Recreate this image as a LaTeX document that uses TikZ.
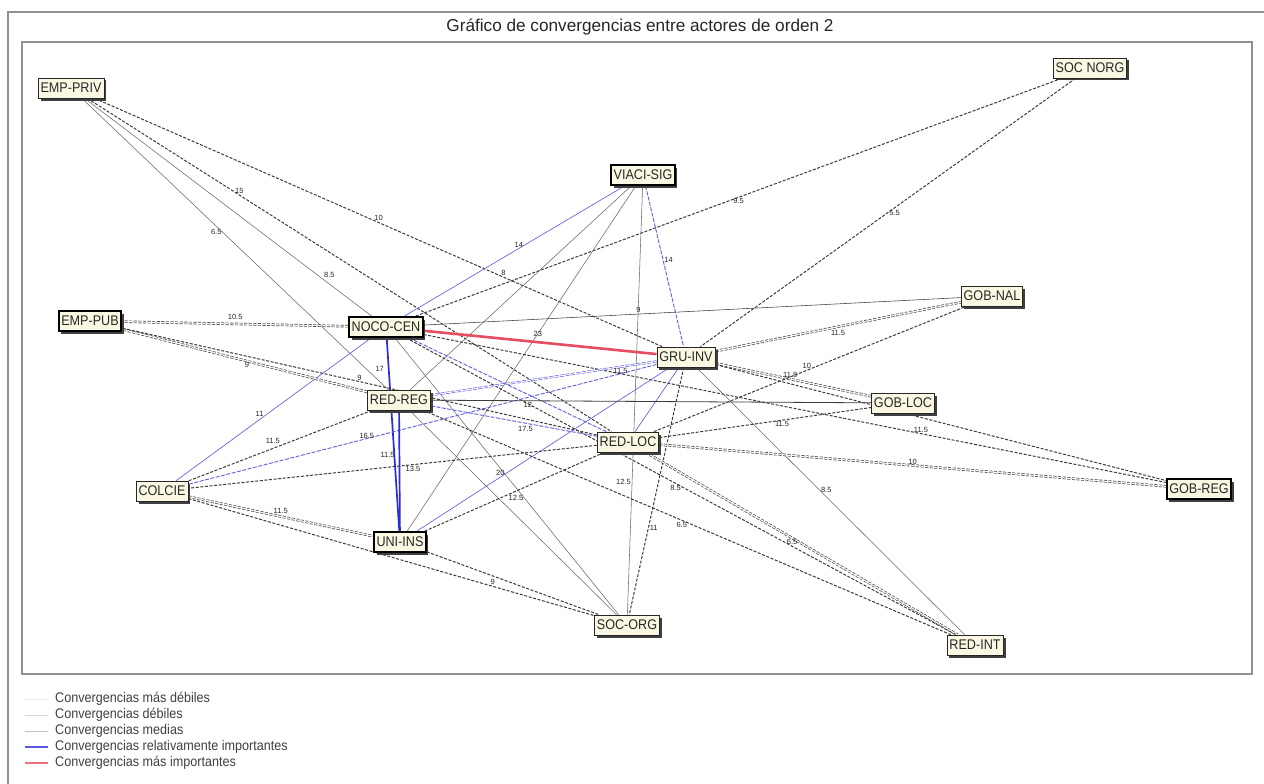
\documentclass[tikz,border=0pt]{standalone}
\usepackage{fontspec}
\setmainfont{Liberation Sans}
\newfontfamily\boxfont{Liberation Sans}[FakeStretch=0.9]
\usetikzlibrary{shadows,backgrounds}

\definecolor{edgegray}{RGB}{60,60,60}
\definecolor{softgray}{RGB}{105,105,105}
\definecolor{blueedge}{RGB}{95,95,225}
\definecolor{bluestrong}{RGB}{45,45,215}
\definecolor{rededge}{RGB}{228,78,96}
\definecolor{boxfill}{RGB}{250,248,226}
\definecolor{framegray}{RGB}{145,145,145}

\tikzset{
  actor/.style={draw=black!85, line width=0.8pt, fill=boxfill,
    font=\boxfont\fontsize{14}{14}\selectfont, text=black!85,
    inner xsep=2.5pt, inner ysep=0pt, minimum height=20pt,
    drop shadow={shadow xshift=2.5pt, shadow yshift=-2.5pt, fill=black!75, opacity=1}},
  actorbold/.style={actor, draw=black, line width=1.8pt},
  dline/.style={draw=edgegray, dash pattern=on 3pt off 1.6pt, line width=1pt},
  ddline/.style={dline, double=white, double distance=1.2pt, line width=0.65pt},
  sline/.style={draw=softgray, line width=0.55pt},
  bline/.style={draw=blueedge, line width=0.65pt},
  bdline/.style={draw=blueedge, dash pattern=on 4pt off 1.5pt, line width=0.9pt},
  bthick/.style={draw=bluestrong, line width=1.7pt},
  rthick/.style={draw=rededge, line width=2.6pt},
  lbl/.style={font=\fontsize{7.5}{7.5}\selectfont, inner sep=1pt, text=black!85},
  legtext/.style={font=\boxfont\fontsize{14}{14}\selectfont, text=black!75, anchor=west, inner sep=0pt}
}

\begin{document}
\begin{tikzpicture}[x=1pt,y=-1pt]
\useasboundingbox (0,0) rectangle (1264,784);

\begin{pgfonlayer}{background}
  \fill[white] (0,0) rectangle (1264,784);
  % window frame and plot frame
  \draw[framegray, line width=1.4pt] (8,784) -- (8,12) -- (1264,12);
  \draw[framegray, line width=1.4pt] (22,42) rectangle (1252,674);
\end{pgfonlayer}

% title
\node[font=\fontsize{17.2}{19}\selectfont, text=black!85] (title) at (640,27)
  {Gráfico de convergencias entre actores de orden 2};

% actors
\node[actor]     (EP) at (71,88)   {EMP-PRIV};
\node[actor]     (SN) at (1090,68) {SOC NORG};
\node[actorbold] (VS) at (643,175) {VIACI-SIG};
\node[actor]     (GN) at (992,296) {GOB-NAL};
\node[actorbold] (EU) at (90,321)  {EMP-PUB};
\node[actorbold] (NC) at (386,327) {NOCO-CEN};
\node[actor]     (GI) at (686,357) {GRU-INV};
\node[actor]     (RR) at (399,400) {RED-REG};
\node[actor]     (GL) at (903,403) {GOB-LOC};
\node[actor]     (RL) at (628,442) {RED-LOC};
\node[actorbold] (GR) at (1199,489) {GOB-REG};
\node[actor]     (CO) at (162,491) {COLCIE};
\node[actorbold] (UI) at (400,542) {UNI-INS};
\node[actor]     (SO) at (627,625) {SOC-ORG};
\node[actor]     (RI) at (975,645) {RED-INT};

% legend
\node[legtext] (lg1) at (55,699) {Convergencias más débiles};
\node[legtext] (lg2) at (55,715) {Convergencias débiles};
\node[legtext] (lg3) at (55,731) {Convergencias medias};
\node[legtext] (lg4) at (55,747) {Convergencias relativamente importantes};
\node[legtext] (lg5) at (55,763) {Convergencias más importantes};
\draw[black!8, line width=1pt]   ([xshift=-30pt]lg1.west) -- ([xshift=-7pt]lg1.west);
\draw[black!15, line width=1pt]  ([xshift=-30pt]lg2.west) -- ([xshift=-7pt]lg2.west);
\draw[blue!20!black!25, line width=1pt] ([xshift=-30pt]lg3.west) -- ([xshift=-7pt]lg3.west);
\draw[bluestrong!80, line width=2.4pt] ([xshift=-30pt]lg4.west) -- ([xshift=-7pt]lg4.west);
\draw[rededge!80, line width=2.4pt]    ([xshift=-30pt]lg5.west) -- ([xshift=-7pt]lg5.west);

% convergence links
\begin{pgfonlayer}{background}
  \draw[sline] (EP) -- node[lbl, pos=0.46, left] {6.5} (RR);
  \draw[sline] (EP) -- node[lbl, pos=0.83, above right] {8.5} (NC);
  \draw[dline] (EP) -- node[lbl, pos=0.29, above] {15} (RL);
  \draw[dline] (EP) -- node[lbl, pos=0.5, above] {10} node[lbl, pos=0.72, above] {8} (GI);
  \draw[dline] (SN) -- node[lbl, pos=0.5, below] {9.5} (NC);
  \draw[dline] (SN) -- node[lbl, pos=0.5, right] {5.5} (GI);
  \draw[bline] (VS) -- node[lbl, pos=0.48, above] {14} (NC);
  \draw[bdline] (VS) -- node[lbl, pos=0.46, right] {14} (GI);
  \draw[sline] (VS) -- (RR);
  \draw[sline] (VS) -- (UI);
  \draw[sline] (VS) -- node[lbl, pos=0.69, left] {12.5} (SO);
  \draw[ddline] (NC) -- node[lbl, pos=0.5, above=3pt] {10.5} (EU);
  \draw[rthick] (NC) -- node[lbl, pos=0.49, above=3pt] {23} (GI);
  \draw[sline, draw=edgegray] (NC) -- node[lbl, pos=0.40, above] {9} (GN);
  \draw[bline] (NC) -- node[lbl, pos=0.53, left=3pt] {11} (CO);
  \draw[bthick] (NC) -- node[lbl, pos=0.16, left=3pt] {17} (UI);
  \draw[bdline] (NC) -- (RL);
  \draw[sline] (NC) -- node[lbl, pos=0.58, left] {12.5} (SO);
  \draw[dline] (NC) -- node[lbl, pos=0.67, above] {11.5} (GR);
  \draw[dline] (NC) -- node[lbl, pos=0.49, below] {8.5} (RI);
  \draw[ddline] (GI) -- node[lbl, pos=0.5, below=2pt] {11.5} (GN);
  \draw[ddline] (GI) -- node[lbl, pos=0.48, above] {11.8} (GL);
  \draw[dline] (GI) -- (GR);
  \draw[sline] (GI) -- node[lbl, pos=0.46, right] {8.5} (RI);
  \draw[bdline] (GI) -- node[lbl, pos=0.6, left] {16.5} (CO);
  \draw[bline] (GI) -- node[lbl, pos=0.67, above] {20} (UI);
  \draw[bdline, double=white, double distance=1pt, line width=0.6pt] (GI) -- node[lbl, pos=0.16, below] {11.5} (RR);
  \draw[dline] (GI) -- node[lbl, pos=0.65, right] {11} (SO);
  \draw[bline] (GI) -- (RL);
  \draw[sline, draw=edgegray, line width=0.8pt] (RR) -- node[lbl, pos=0.22, below] {12} (GL);
  \draw[bdline] (RR) -- node[lbl, pos=0.57, below=2pt] {17.5} (RL);
  \draw[bthick] (RR) -- node[lbl, pos=0.37, left=3pt] {11.5} (UI);
  \draw[dline] (RR) -- node[lbl, pos=0.49, below] {6.5} (RI);
  \draw[dline] (RR) -- node[lbl, pos=0.54, above=3pt] {11.5} (CO);
  \draw[ddline] (RR) -- node[lbl, pos=0.49, below] {9} (EU);
  \draw[sline] (RR) -- (SO);
  \draw[dline] (RL) -- node[lbl, pos=0.49, above] {10} (GN);
  \draw[dline] (RL) -- node[lbl, pos=0.58, below] {11.5} (GL);
  \draw[ddline] (RL) -- node[lbl, pos=0.5, above] {10} (GR);
  \draw[ddline] (RL) -- node[lbl, pos=0.47, below] {6.5} (RI);
  \draw[dline] (RL) -- node[lbl, pos=0.45, below] {13.5} (CO);
  \draw[dline] (RL) -- (UI);
  \draw[dline] (RL) -- node[lbl, pos=0.5, above] {9} (EU);
  \draw[ddline] (CO) -- node[lbl, pos=0.5, above=2pt] {11.5} (UI);
  \draw[dline] (CO) -- node[lbl, pos=0.75, above] {9} (SO);
  \draw[dline] (UI) -- (SO);
\end{pgfonlayer}
\end{tikzpicture}
\end{document}
